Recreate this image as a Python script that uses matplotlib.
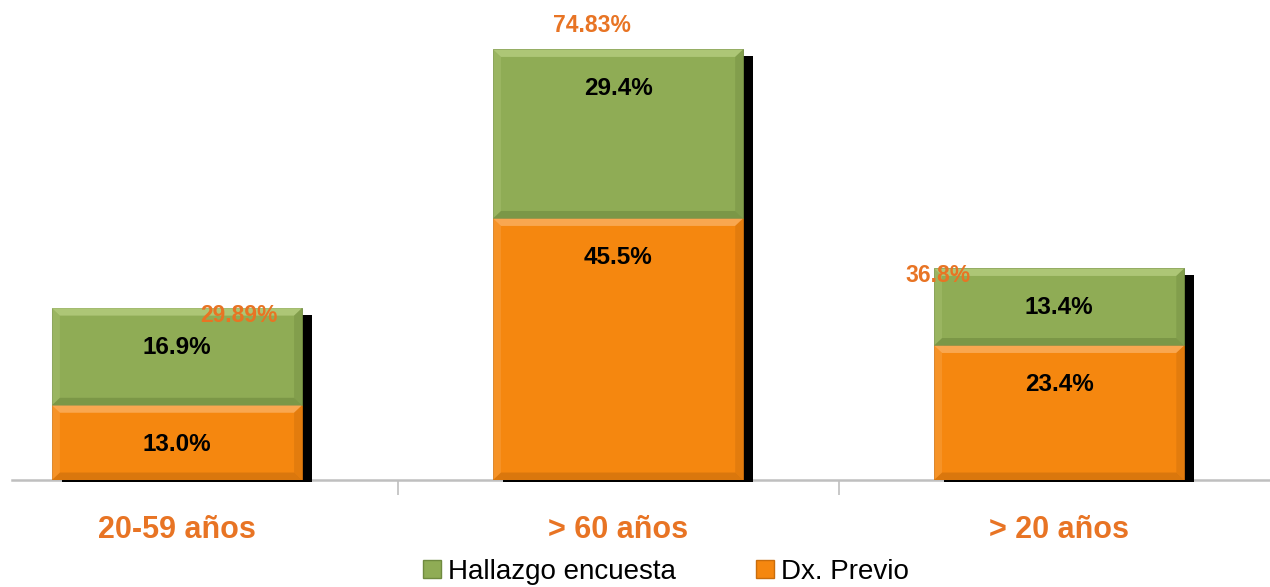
import matplotlib
matplotlib.use("Agg")
import matplotlib.pyplot as plt
from matplotlib.patches import Patch
import numpy as np

categories = ["20-59 años", "> 60 años", "> 20 años"]
dx_previo = [13.0, 45.5, 23.4]
hallazgo = [16.9, 29.4, 13.4]
totals = ["29.89%", "74.83%", "36.8%"]
series_names = ["Hallazgo encuesta", "Dx. Previo"]

# where the total labels sit, relative to each bar (x shift, y value)
total_dx = [0.14, -0.06, -0.274]
total_y = [28.7, 79.1, 35.5]

GREEN = "#8fac55"
ORANGE = "#f5870f"
LBL_ORANGE = "#e87424"
FONT = ["Liberation Sans", "DejaVu Sans"]

fig = plt.figure(figsize=(12.7, 5.87), dpi=100)
ax = fig.add_axes([12 / 1270, 107 / 587, 1 - 12 / 1270, 1 - 107 / 587])

x = np.arange(len(categories))
w = 0.567
sx, sy = 0.0227, 1.2  # shadow offset

bottom = np.array(dx_previo)
top = bottom + np.array(hallazgo)

# shadow
ax.bar(x + sx, top - sy + 0.4, w, bottom=-0.4, color="black", zorder=1, clip_on=False)

def bevel_bar(xs, vals, base, color, light, dark):
    ax.bar(xs, vals, w, bottom=base, color=color, zorder=2, edgecolor=dark, linewidth=0.6)
    bx, by = 0.018, 1.3
    for xi, v, b in zip(xs, vals, base):
        l, r = xi - w / 2, xi + w / 2
        t = b + v
        ax.fill([l, r, r - bx, l + bx], [t, t, t - by, t - by], color=light, zorder=3, lw=0, alpha=0.8)
        ax.fill([l, r, r - bx, l + bx], [b, b, b + by, b + by], color=dark, zorder=3, lw=0, alpha=0.6)
        ax.fill([l, l + bx, l + bx, l], [b, b + by, t - by, t], color=light, zorder=3, lw=0, alpha=0.3)
        ax.fill([r, r - bx, r - bx, r], [b, b + by, t - by, t], color=dark, zorder=3, lw=0, alpha=0.4)

bevel_bar(x, dx_previo, np.zeros(3), ORANGE, "#fbb061", "#c96d0c")
bevel_bar(x, hallazgo, bottom, GREEN, "#b5cd7f", "#6f8a3f")

# segment labels (fixed distance below segment top)
for vals, base in [(dx_previo, np.zeros(3)), (hallazgo, bottom)]:
    for xi, v, b in zip(x, vals, base):
        ax.annotate(f"{v:.1f}%", (xi, b + v), xytext=(0, -28), textcoords="offset points",
                    ha="center", va="center", fontsize=17.5, fontweight="bold",
                    family=FONT, color="black", zorder=5)

for xi, t, dxi, yi in zip(x, totals, total_dx, total_y):
    ax.text(xi + dxi, yi, t, ha="center", va="center", fontsize=16.5, fontweight="bold",
            family=FONT, color=LBL_ORANGE, zorder=6)

ax.set_xlim(-0.374, 2.478)
ax.set_ylim(0, 83.5)
for s in ["top", "right", "left"]:
    ax.spines[s].set_visible(False)
ax.spines["bottom"].set_color("#bfbfbf")
ax.spines["bottom"].set_linewidth(1.8)
ax.spines["bottom"].set_zorder(0.5)
ax.set_yticks([])

ax.set_xticks(x)
ax.set_xticklabels(categories, fontsize=22, fontweight="bold", color=LBL_ORANGE, family=FONT)
ax.tick_params(axis="x", which="major", length=0, pad=25)
ax.set_xticks([0.5, 1.5], minor=True)
ax.tick_params(axis="x", which="minor", length=11, width=1.2, color="#bfbfbf")

handles = [Patch(facecolor=GREEN, edgecolor="#6f8a3f"), Patch(facecolor=ORANGE, edgecolor="#c96d0c")]
fig.legend(handles, series_names, loc="center", bbox_to_anchor=(666 / 1270, 0.026), ncol=2,
           frameon=False, prop={"family": FONT, "size": 20},
           handlelength=0.65, handleheight=0.65, handletextpad=0.25, columnspacing=2.9,
           borderpad=0, borderaxespad=0)

fig.savefig("out.png", dpi=100)
